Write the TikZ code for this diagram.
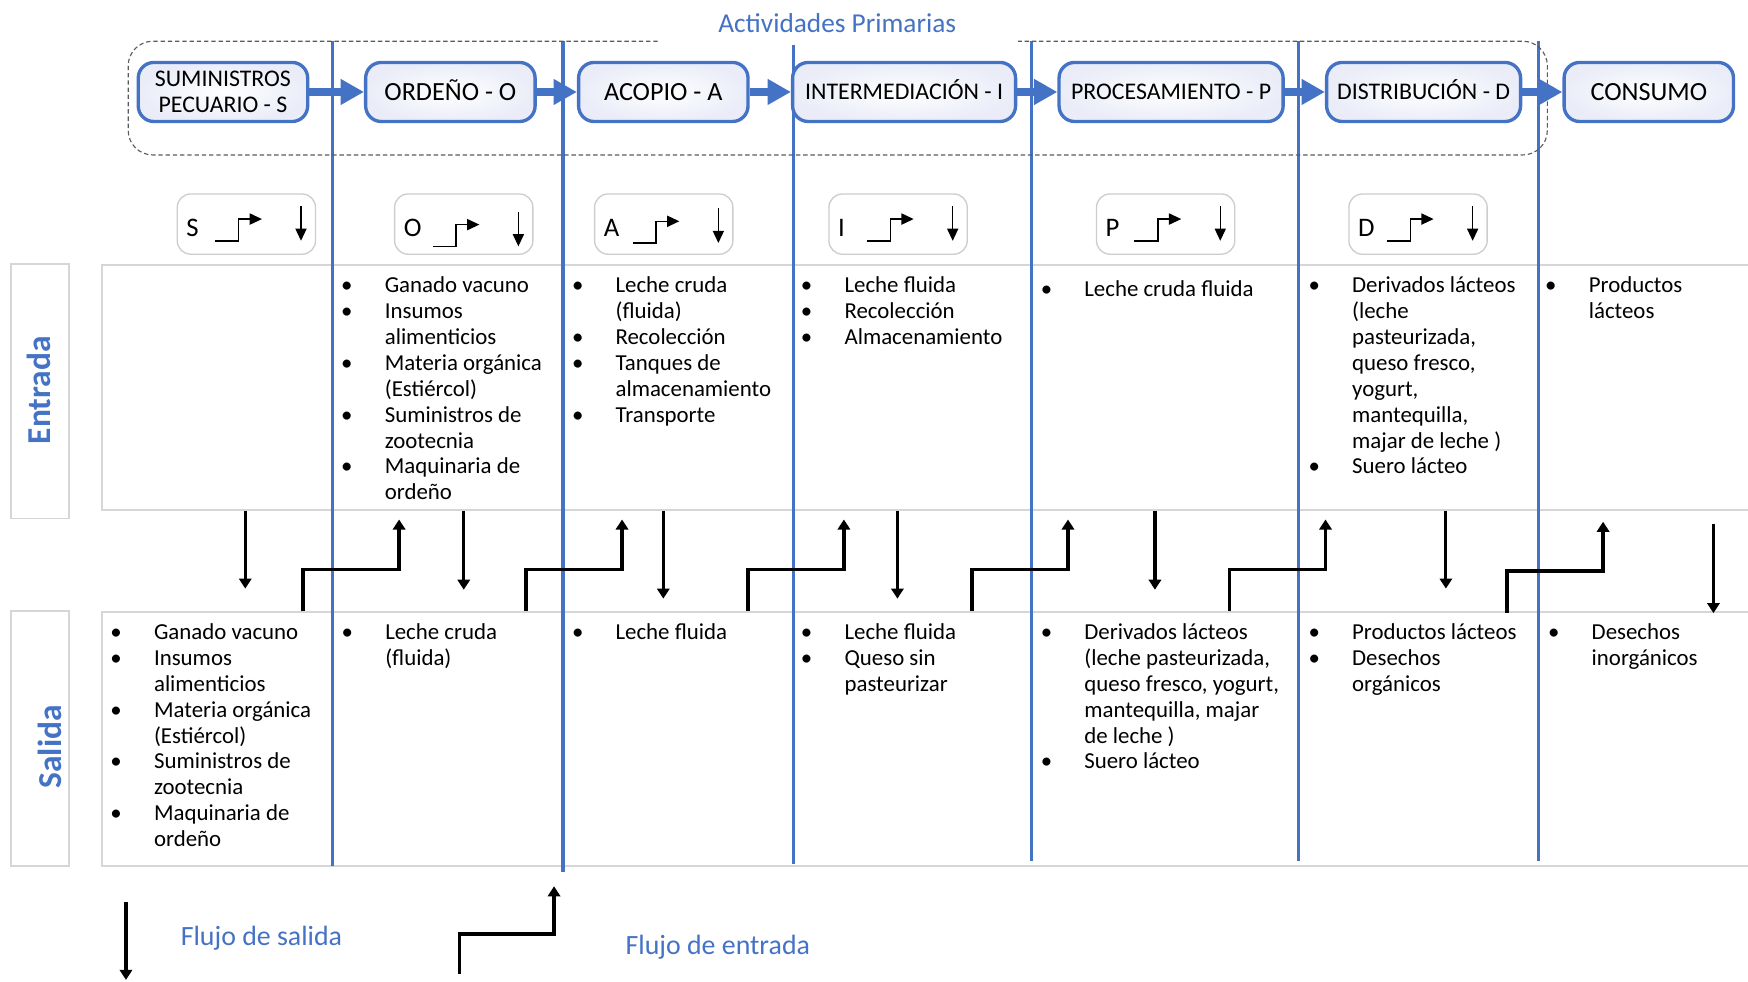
\documentclass[tikz,border=0pt]{standalone}
\usepackage{fontspec}
\setmainfont{Carlito}
\usetikzlibrary{arrows.meta}
\definecolor{officeblue}{RGB}{68,114,196}
\definecolor{lanegray}{RGB}{214,214,214}
\definecolor{keygray}{RGB}{205,205,205}
\definecolor{stagefill}{RGB}{234,237,248}
\definecolor{dashgray}{RGB}{90,90,90}

\newcommand{\bu}{\makebox[34pt][l]{\makebox[0pt]{\textbullet}}}
\newcommand{\itemcol}[1]{\begin{tabular}{@{}l@{}l@{}}#1\end{tabular}}
% key box: name, left edge, letter, arrow offset
\newcommand{\flowkey}[4]{%
  \begin{scope}[shift={(#2,0)}]
    \node[keybox] (key#1) at (62,201) {};
    \node[keyletter] (key#1txt) at (8,204) {#3};
    \coordinate (key#1in) at (34,216+#4);
    \coordinate (key#1inend) at (76,196.5+#4);
    \draw[keyarrow] (key#1in) -- ++(21,0) |- (key#1inend);
    \coordinate (key#1out) at (111,185+#4);
    \coordinate (key#1outend) at (111,216+#4);
    \draw[keyarrow] (key#1out) -- (key#1outend);
  \end{scope}}

\begin{document}
\begin{tikzpicture}[x=1pt, y=-1pt,
    stage/.style={rectangle, rounded corners=14pt, draw=officeblue, line width=3pt, inner color=white, outer color=stagefill, minimum height=53pt, align=center, inner sep=2pt},
    stagebig/.style={stage, text height=18pt, text depth=3pt, font=\fontsize{23.5}{24}\selectfont},
    stagelong/.style={stage, text height=17pt, text depth=3pt, font=\fontsize{21.4}{23}\selectfont},
    flow/.style={officeblue, line width=7.5pt, -{Triangle[length=21pt, width=22pt]}},
    divider/.style={officeblue, line width=2.8pt},
    primary/.style={draw=dashgray, line width=1pt, dash pattern=on 4pt off 2.5pt, rounded corners=22pt},
    lane/.style={rectangle, draw=lanegray, line width=1.5pt, inner sep=0pt},
    lanelabel/.style={rotate=90, text=officeblue, font=\fontsize{30}{30}\selectfont\bfseries},
    keybox/.style={rectangle, rounded corners=12pt, draw=keygray, line width=1.2pt, minimum width=124pt, minimum height=54pt},
    keyletter/.style={anchor=west, inner sep=0pt, font=\fontsize{24}{24}\selectfont},
    keyarrow/.style={line width=1.3pt, -{Triangle[length=11pt, width=10pt]}},
    itemlist/.style={anchor=north west, inner sep=0pt, font=\fontsize{20.5}{23.2}\selectfont},
    outflow/.style={line width=2.8pt, -{Triangle[length=9pt, width=11pt]}},
    inflow/.style={line width=3.2pt, -{Triangle[length=9pt, width=11pt]}},
    note/.style={anchor=west, inner sep=0pt, text=officeblue, font=\fontsize{25}{25}\selectfont},
]
\useasboundingbox (0,0) rectangle (1568,880);

% lanes
\node[lane, anchor=north west, minimum width=1500pt, minimum height=220pt] (entradabox) at (91,237) {};
\node[lane, anchor=north west, minimum width=1500pt, minimum height=228pt] (salidabox) at (91,548) {};
\node[lane, minimum width=52pt, minimum height=228pt] (entradatag) at (36,351) {};
\node[lane, minimum width=52pt, minimum height=229pt] (salidatag) at (36,662.5) {};
\node[lanelabel] (entradalbl) at (35,350) {Entrada};
\node[lanelabel] (salidalbl) at (45,670) {Salida};

% stage dividers
\draw[divider] (298,37) -- (298,777);
\draw[divider] (505,37) -- (505,782);
\draw[divider] (712,40) -- (712,775);
\draw[divider] (925,37) -- (925,772);
\draw[divider] (1165,37) -- (1165,772);
\draw[divider] (1380,37) -- (1380,772);

% primary activities
\node[text=officeblue, font=\fontsize{24.5}{25}\selectfont] (title) at (751,21) {Actividades Primarias};
\draw[primary] (590,37) -| (115,139) -| (1388,37) -- (913,37);

\node[stage, font=\fontsize{21.4}{23}\selectfont, minimum width=152pt] (supply) at (200,82.5) {SUMINISTROS\\PECUARIO - S};
\node[stagebig, minimum width=152pt] (milking) at (404,82.5) {ORDEÑO - O};
\node[stagebig, minimum width=152pt] (collect) at (595,82.5) {ACOPIO - A};
\node[stagelong, minimum width=200pt] (broker) at (811,82.5) {INTERMEDIACIÓN - I};
\node[stagelong, minimum width=201pt] (process) at (1050.5,82.5) {PROCESAMIENTO - P};
\node[stagelong, minimum width=174pt] (distrib) at (1277,82.5) {DISTRIBUCIÓN - D};
\node[stagebig, minimum width=152pt] (consume) at (1479,82.5) {CONSUMO};
\draw[flow] (supply) -- (milking);
\draw[flow] (milking) -- (collect);
\draw[flow] (collect) -- (broker);
\draw[flow] (broker) -- (process);
\draw[flow] (process) -- (distrib);
\draw[flow] (distrib) -- (consume);

% flow keys
\flowkey{S}{159}{S}{0}
\flowkey{O}{354}{O}{5}
\flowkey{A}{533.4}{A}{2}
\flowkey{I}{743.6}{I}{0}
\flowkey{P}{983.6}{P}{0}
\flowkey{D}{1210}{D}{0}

% inputs
\node[itemlist] (inlistO) at (311,246.3) {\itemcol{\bu & Ganado vacuno\\ \bu & Insumos\\ & alimenticios\\ \bu & Materia orgánica\\ & (Estiércol)\\ \bu & Suministros de\\ & zootecnia\\ \bu & Maquinaria de\\ & ordeño}};
\node[itemlist] (inlistA) at (518,246.3) {\itemcol{\bu & Leche cruda\\ & (fluida)\\ \bu & Recolección\\ \bu & Tanques de\\ & almacenamiento\\ \bu & Transporte}};
\node[itemlist] (inlistI) at (723.4,246.3) {\itemcol{\bu & Leche fluida\\ \bu & Recolección\\ \bu & Almacenamiento}};
\node[itemlist] (inlistP) at (938.5,249.8) {\itemcol{\bu & Leche cruda fluida}};
\node[itemlist] (inlistD) at (1178.7,246.3) {\itemcol{\bu & Derivados lácteos\\ & (leche\\ & pasteurizada,\\ & queso fresco,\\ & yogurt,\\ & mantequilla,\\ & majar de leche )\\ \bu & Suero lácteo}};
\node[itemlist] (inlistC) at (1391,246.3) {\itemcol{\bu & Productos\\ & lácteos}};

% outputs
\node[itemlist] (outlistS) at (104,557.3) {\itemcol{\bu & Ganado vacuno\\ \bu & Insumos\\ & alimenticios\\ \bu & Materia orgánica\\ & (Estiércol)\\ \bu & Suministros de\\ & zootecnia\\ \bu & Maquinaria de\\ & ordeño}};
\node[itemlist] (outlistO) at (311.4,557.3) {\itemcol{\bu & Leche cruda\\ & (fluida)}};
\node[itemlist] (outlistA) at (518,557.3) {\itemcol{\bu & Leche fluida}};
\node[itemlist] (outlistI) at (723.4,557.3) {\itemcol{\bu & Leche fluida\\ \bu & Queso sin\\ & pasteurizar}};
\node[itemlist] (outlistP) at (938.5,557.3) {\itemcol{\bu & Derivados lácteos\\ & (leche pasteurizada,\\ & queso fresco, yogurt,\\ & mantequilla, majar\\ & de leche )\\ \bu & Suero lácteo}};
\node[itemlist] (outlistD) at (1178.7,557.3) {\itemcol{\bu & Productos lácteos\\ \bu & Desechos\\ & orgánicos}};
\node[itemlist] (outlistC) at (1393.6,557.3) {\itemcol{\bu & Desechos\\ & inorgánicos}};

% flows between lanes
\coordinate (outS) at (220,528);
\coordinate (outO) at (416,529);
\coordinate (outA) at (595,537);
\coordinate (outI) at (805,537);
\coordinate (outP) at (1036,529);
\coordinate (outD) at (1297,528);
\coordinate (outCtop) at (1537,470);
\coordinate (outC) at (1537,550);
\draw[outflow] (entradabox.south -| outS) -- (outS);
\draw[outflow] (entradabox.south -| outO) -- (outO);
\draw[outflow] (entradabox.south -| outA) -- (outA);
\draw[outflow] (entradabox.south -| outI) -- (outI);
\draw[outflow] (entradabox.south -| outP) -- (outP);
\draw[outflow] (entradabox.south -| outD) -- (outD);
\draw[outflow] (outCtop) -- (outC);

\coordinate (inOfrom) at (272,548);    \coordinate (inO) at (358,466);
\coordinate (inAfrom) at (472,548);    \coordinate (inA) at (558,466);
\coordinate (inIfrom) at (671,548);    \coordinate (inI) at (757,466);
\coordinate (inPfrom) at (872,548);    \coordinate (inP) at (958,466);
\coordinate (inDfrom) at (1103,548);   \coordinate (inD) at (1189,466);
\coordinate (inCfrom) at (1352,550);   \coordinate (inC) at (1438,468);
\draw[inflow] (inOfrom) -- ++(0,-37) -| (inO);
\draw[inflow] (inAfrom) -- ++(0,-37) -| (inA);
\draw[inflow] (inIfrom) -- ++(0,-37) -| (inI);
\draw[inflow] (inPfrom) -- ++(0,-37) -| (inP);
\draw[inflow] (inDfrom) -- ++(0,-37) -| (inD);
\draw[inflow] (inCfrom) -- ++(0,-38) -| (inC);

% legend
\coordinate (legouttop) at (113,809);
\coordinate (legout) at (113,879);
\draw[outflow] (legouttop) -- (legout);
\node[note] (legouttxt) at (162,842) {Flujo de salida};
\coordinate (leginfrom) at (412,874);
\coordinate (legin) at (497,795);
\draw[inflow] (leginfrom) -- ++(0,-36) -| (legin);
\node[note] (legintxt) at (561,849.5) {Flujo de entrada};
\end{tikzpicture}
\end{document}
